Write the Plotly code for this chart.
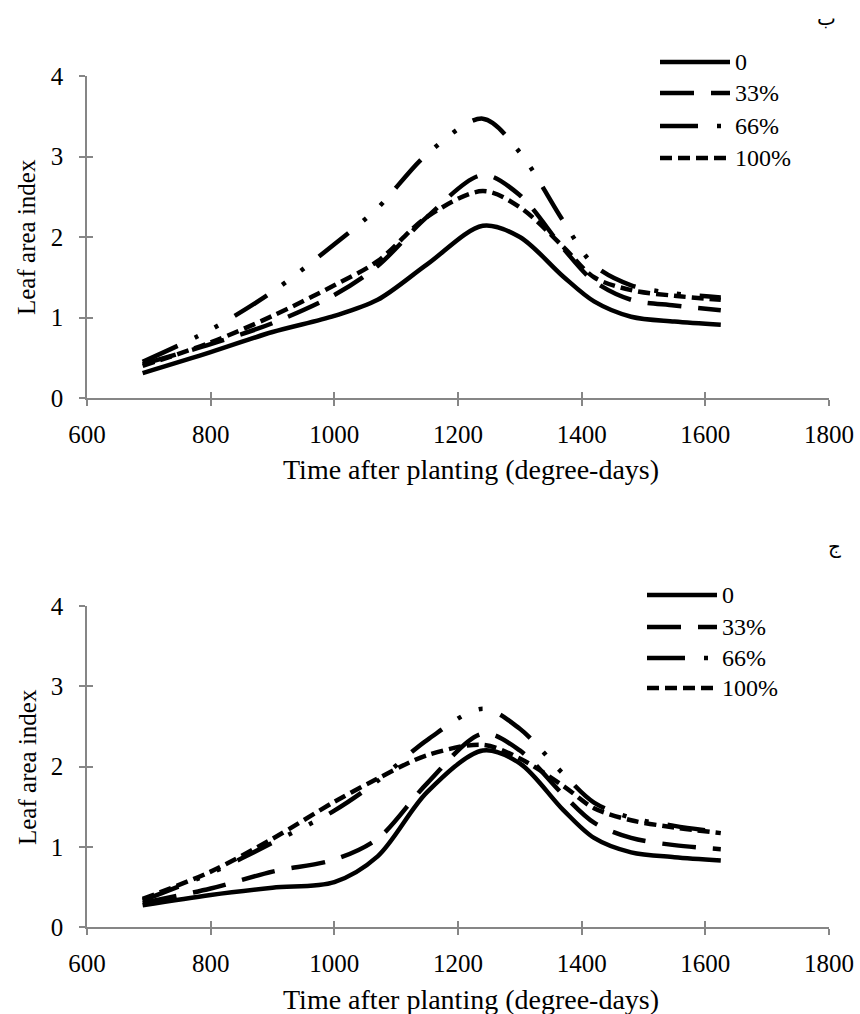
import plotly.graph_objects as go

# x positions (degree-days) at which the curves were read
x_vals = [690, 800, 900, 1000, 1070, 1150, 1240, 1300, 1370, 1420, 1480, 1550, 1625]
labels = ['0', '33%', '66%', '100%']

# panel "ب" (top)
top_0 = [0.31, 0.57, 0.82, 1.02, 1.22, 1.66, 2.14, 2.00, 1.51, 1.20, 1.01, 0.95, 0.91]
top_33 = [0.42, 0.67, 0.93, 1.28, 1.64, 2.25, 2.77, 2.52, 1.86, 1.45, 1.22, 1.15, 1.09]
top_66 = [0.45, 0.85, 1.32, 1.91, 2.36, 3.03, 3.47, 3.05, 2.20, 1.65, 1.40, 1.30, 1.25]
top_100 = [0.40, 0.69, 1.02, 1.40, 1.70, 2.25, 2.57, 2.37, 1.88, 1.50, 1.34, 1.27, 1.22]

# panel "ج" (bottom)
bot_0 = [0.27, 0.40, 0.49, 0.56, 0.88, 1.68, 2.20, 2.04, 1.46, 1.11, 0.93, 0.87, 0.83]
bot_33 = [0.30, 0.48, 0.69, 0.84, 1.10, 1.79, 2.41, 2.20, 1.65, 1.30, 1.11, 1.02, 0.97]
bot_66 = [0.33, 0.67, 1.05, 1.45, 1.82, 2.33, 2.72, 2.47, 1.91, 1.55, 1.36, 1.26, 1.18]
bot_100 = [0.35, 0.69, 1.10, 1.56, 1.85, 2.14, 2.27, 2.10, 1.76, 1.48, 1.33, 1.24, 1.17]

x_ticks = [600, 800, 1000, 1200, 1400, 1600, 1800]
y_ticks = [0, 1, 2, 3, 4]

dashes = ['solid', '34px,17px', '38px,19px,4px,19px,4px,19px', '12px,6px']
FONT = 'Liberation Serif, Times New Roman, serif'
AXIS = '#868686'
LW = 4.5

fig = go.Figure()

panels = [
    ('x', 'y', [top_0, top_33, top_66, top_100]),
    ('x2', 'y2', [bot_0, bot_33, bot_66, bot_100]),
]
for xa, ya, series in panels:
    for i, vals in enumerate(series):
        fig.add_trace(go.Scatter(
            x=x_vals, y=vals, mode='lines', name=labels[i],
            line=dict(color='black', width=LW, dash=dashes[i], shape='spline', smoothing=0.9),
            xaxis=xa, yaxis=ya, showlegend=False, hoverinfo='skip'))

common_x = dict(range=[600, 1800], tickvals=x_ticks, showgrid=False, zeroline=False, automargin=False,
                linecolor=AXIS, linewidth=1.5, tickcolor=AXIS, tickwidth=1.5, ticklen=6,
                tickfont=dict(family=FONT, size=25, color='black'))
common_y = dict(range=[0, 4], tickvals=y_ticks, showgrid=False, zeroline=False, automargin=False,
                linecolor=AXIS, linewidth=1.5, tickcolor=AXIS, tickwidth=1.5, ticklen=6,
                tickfont=dict(family=FONT, size=25, color='black'))

top_dom = [0.6216, 1.0]
bot_dom = [0.0, 0.3772]

fig.update_layout(
    xaxis=dict(common_x, anchor='y', showline=True, ticks='outside', ticklabelstandoff=7),
    yaxis=dict(common_y, domain=top_dom, anchor='x', showline=True, ticks='outside', ticklabelstandoff=11),
    xaxis2=dict(common_x, anchor='y2', showline=True, ticks='outside', ticklabelstandoff=7),
    yaxis2=dict(common_y, domain=bot_dom, anchor='x2', showline=True, ticks='outside', ticklabelstandoff=11),
    # inner half of the crossing tick marks
    xaxis3=dict(common_x, overlaying='x', anchor='y', showline=False, ticks='inside', showticklabels=False),
    yaxis3=dict(common_y, overlaying='y', anchor='x', showline=False, ticks='inside', showticklabels=False),
    xaxis4=dict(common_x, overlaying='x2', anchor='y2', showline=False, ticks='inside', showticklabels=False),
    yaxis4=dict(common_y, overlaying='y2', anchor='x2', showline=False, ticks='inside', showticklabels=False),
    width=860, height=1014,
    margin=dict(l=87, r=31, t=76, b=87),
    paper_bgcolor='white', plot_bgcolor='rgba(0,0,0,0)',
    showlegend=False,
)
fig.add_trace(go.Scatter(x=[], y=[], xaxis='x3', yaxis='y3', showlegend=False))
fig.add_trace(go.Scatter(x=[], y=[], xaxis='x4', yaxis='y4', showlegend=False))


# page pixel -> paper fraction (plot area spans 87..829 and 76..927)
def px_to_paper(px, py):
    return (px - 87) / 742, (927 - py) / 851


# axis titles
title_font = dict(family=FONT, size=28, color='black')
for off in (0, 530):
    a, b = px_to_paper(471, 469 + off)
    fig.add_annotation(x=a, y=b, xref='paper', yref='paper', text='Time after planting (degree-days)',
                       showarrow=False, xanchor='center', yanchor='middle', font=title_font)
    a, b = px_to_paper(27, 237 + off)
    fig.add_annotation(x=a, y=b, xref='paper', yref='paper', text='Leaf area index', textangle=-90,
                       showarrow=False, xanchor='center', yanchor='middle',
                       font=dict(family=FONT, size=25, color='black'))

# manual legends (long line samples like the original)
legend_rows = [([62, 93, 126, 158], 660, 730), ([595, 627, 658, 688], 647, 717)]
for rows, x0, x1 in legend_rows:
    for i, py in enumerate(rows):
        a, b = px_to_paper(x0, py)
        c, _ = px_to_paper(x1, py)
        fig.add_shape(type='line', xref='paper', yref='paper', x0=a, x1=c, y0=b, y1=b,
                      line=dict(color='black', width=LW, dash=dashes[i]))
        tx, _ = px_to_paper(x1 + 3, py)
        fig.add_annotation(x=tx, y=b, xref='paper', yref='paper', text=labels[i],
                           showarrow=False, xanchor='left', yanchor='middle',
                           font=dict(family=FONT, size=24, color='black'))

for letter, (px, py) in [('ب', (826, 18)), ('ج', (834, 546))]:
    a, b = px_to_paper(px, py)
    fig.add_annotation(x=a, y=b, xref='paper', yref='paper', text=letter, showarrow=False,
                       xanchor='center', yanchor='middle',
                       font=dict(family='DejaVu Sans, Noto Sans, sans-serif', size=20, color='black'))

# drop the default body margin so the 860x1014 figure fills the window exactly
fig.write_html('out.html', config={'displayModeBar': False},
               post_script="document.body.style.margin='0';")
